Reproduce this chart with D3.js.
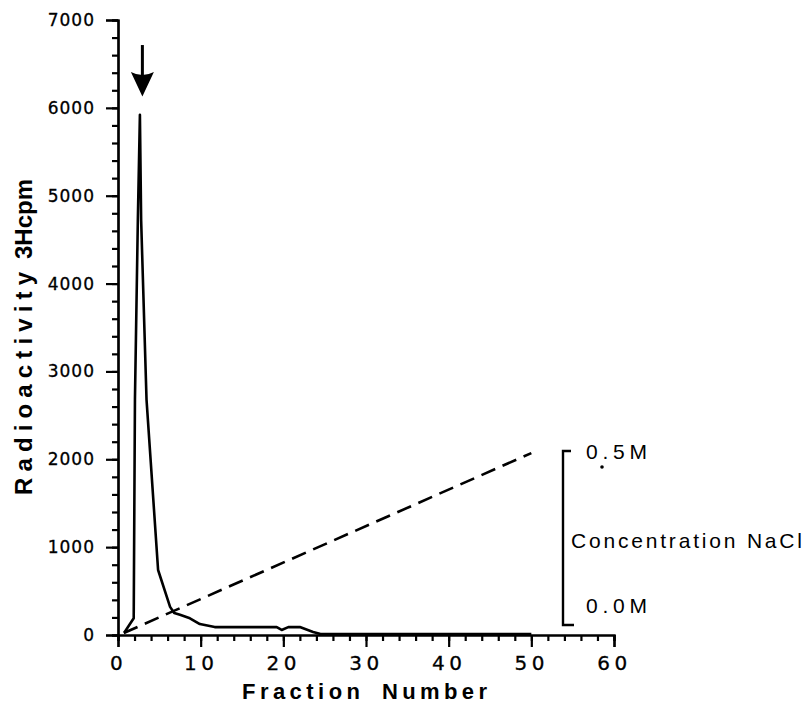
<!DOCTYPE html>
<html>
<head>
<meta charset="utf-8">
<script src="https://cdn.jsdelivr.net/npm/d3@7"></script>
<style>
  html, body { margin: 0; padding: 0; background: #fff; }
  svg { display: block; }
  text { fill: #000; font-family: "Liberation Sans", Arial, Helvetica, sans-serif; }
</style>
</head>
<body>
<svg id="chart" width="805" height="705"></svg>
<script>
// ---- data ----
const fractions = [0.75, 1.9, 2.05, 2.4, 2.65, 2.8, 3.45, 4.85, 6.3, 6.8, 7.5, 8.7, 9.9, 11.7, 19.2, 19.8, 20.6, 22.0, 23.6, 24.5, 50];
const cpm       = [25, 190, 2680, 4720, 5920, 4720, 2680, 740, 320, 250, 230, 190, 125, 90, 90, 57, 90, 90, 35, 12, 12];

const gradientFractions = [0.7, 50];
const gradientConc      = [-0.023, 0.494];   // M NaCl

const xTicks = [0, 10, 20, 30, 40, 50, 60];
const yTicks = [0, 1000, 2000, 3000, 4000, 5000, 6000, 7000];
const concTicks = [0.0, 0.5];
const concLabels = ["0.0M", "0.5M"];
const arrowFraction = 2.95, arrowTop = 6715, arrowBase = 6408, arrowTip = 6130;

// ---- scales ----
const svg = d3.select("#chart");
const x = d3.scaleLinear().domain([0, 60]).range([118, 614]);
const y = d3.scaleLinear().domain([0, 7000]).range([635, 20]);
const yc = d3.scaleLinear().domain([0, 0.5]).range([625, 451]);

const axisStroke = 2.2;

// minor ticks
const gxMinor = svg.append("g").attr("transform", `translate(0,${y(0)})`)
  .call(d3.axisBottom(x).tickValues(d3.range(0, 61, 2)).tickSize(6).tickFormat(""));
const gyMinor = svg.append("g").attr("transform", `translate(${x(0)},0)`)
  .call(d3.axisLeft(y).tickValues(d3.range(0, 7001, 200)).tickSize(6).tickFormat(""));

// major ticks with labels
const gx = svg.append("g").attr("transform", `translate(0,${y(0)})`)
  .call(d3.axisBottom(x).tickValues(xTicks).tickSize(12).tickPadding(8).tickFormat(d3.format("d")));
const gy = svg.append("g").attr("transform", `translate(${x(0)},0)`)
  .call(d3.axisLeft(y).tickValues(yTicks).tickSize(12).tickPadding(12).tickFormat(d3.format("d")));

[gxMinor, gyMinor, gx, gy].forEach(g => {
  g.selectAll("path.domain").attr("stroke", "#000").attr("stroke-width", axisStroke);
  g.selectAll(".tick line").attr("stroke", "#000").attr("stroke-width", axisStroke);
});
gx.selectAll(".tick text")
  .style("font-family", "'DejaVu Sans', sans-serif")
  .style("font-size", "20px").style("letter-spacing", "4.5px")
  .attr("stroke", "#000").attr("stroke-width", 0.3)
  .attr("dy", "0.75em");
gy.selectAll(".tick text")
  .style("font-family", "'DejaVu Sans', sans-serif")
  .style("font-size", "17px").style("letter-spacing", "1px")
  .attr("stroke", "#000").attr("stroke-width", 0.3)
  .attr("dx", "1px");

// ---- gradient (dashed) ----
const gradData = gradientFractions.map((f, i) => [f, gradientConc[i]]);
svg.append("path")
  .datum(gradData)
  .attr("fill", "none").attr("stroke", "#000").attr("stroke-width", 2.6)
  .attr("stroke-dasharray", "15,8")
  .attr("d", d3.line().x(d => x(d[0])).y(d => yc(d[1])));

// ---- radioactivity curve ----
const curveData = fractions.map((f, i) => [f, cpm[i]]);
svg.append("path")
  .datum(curveData)
  .attr("fill", "none").attr("stroke", "#000").attr("stroke-width", 2.6)
  .attr("stroke-linejoin", "round")
  .attr("d", d3.line().x(d => x(d[0])).y(d => y(d[1])));

// ---- arrow ----
const ax = x(arrowFraction);
svg.append("line")
  .attr("x1", ax).attr("x2", ax).attr("y1", y(arrowTop)).attr("y2", y(arrowBase) + 6)
  .attr("stroke", "#000").attr("stroke-width", 3);
svg.append("path")
  .attr("d", `M${ax - 11.5},${y(arrowBase)} Q${ax},${y(arrowBase) + 6} ${ax + 11.5},${y(arrowBase)} L${ax},${y(arrowTip)} Z`)
  .attr("fill", "#000");

// ---- concentration scale bar ----
const bx = 563;
svg.append("path")
  .attr("d", `M${bx + 8},${yc(0.5)} L${bx},${yc(0.5)} L${bx},${yc(0)} L${bx + 11},${yc(0)}`)
  .attr("fill", "none").attr("stroke", "#000").attr("stroke-width", 2.4);
svg.selectAll("text.conc").data(concTicks).enter().append("text")
  .attr("class", "conc")
  .attr("x", 586).attr("y", d => yc(d) + (d === 0 ? -12 : 8))
  .attr("textLength", 61).attr("lengthAdjust", "spacing")
  .style("font-size", "21px")
  .text((d, i) => concLabels[i]);
svg.append("circle").attr("cx", 602).attr("cy", yc(0.5) + 16).attr("r", 1.8).attr("fill", "#000");
svg.append("text")
  .attr("x", 571).attr("y", yc(0.25) + 10)
  .attr("textLength", 231).attr("lengthAdjust", "spacing")
  .style("font-size", "21px")
  .text("Concentration NaCl");

// ---- axis titles ----
const xTitle = svg.append("text").attr("y", 699)
  .style("font-size", "22px").style("font-weight", "bold");
xTitle.append("tspan").attr("x", 242).attr("textLength", 118).attr("lengthAdjust", "spacing").text("Fraction");
xTitle.append("tspan").attr("x", 382).attr("textLength", 105).attr("lengthAdjust", "spacing").text("Number");

const yTitle = svg.append("text")
  .attr("transform", `translate(32,0) rotate(-90)`)
  .style("font-size", "24px").style("font-weight", "bold");
yTitle.append("tspan").attr("x", -495).attr("textLength", 223).attr("lengthAdjust", "spacing").text("Radioactivity");
yTitle.append("tspan").attr("x", -259).attr("textLength", 80).attr("lengthAdjust", "spacing").text("3Hcpm");
</script>
</body>
</html>
